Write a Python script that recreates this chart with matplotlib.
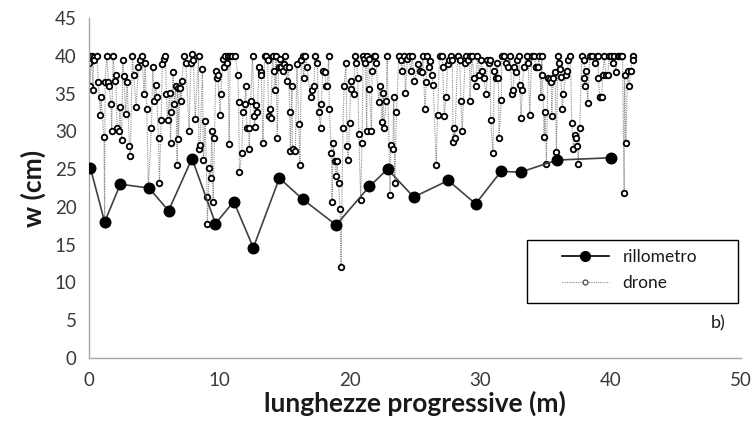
import numpy as np
import matplotlib
matplotlib.use("Agg")
import matplotlib.pyplot as plt
from matplotlib.lines import Line2D
from matplotlib.patches import Rectangle

plt.rcParams['font.family'] = ['Lato', 'DejaVu Sans']

# rill-meter measurements
rill_x = [0.1, 1.2, 2.4, 4.6, 6.1, 7.9, 9.7, 11.1, 12.6, 14.6, 16.4, 18.95, 21.5,
          22.9, 24.9, 27.55, 29.65, 31.6, 33.1, 35.9, 40.0]
rill_y = [25.2, 18.0, 23.0, 22.5, 19.5, 26.4, 17.8, 20.7, 14.6, 23.8, 21.0, 17.6, 22.7,
          25.0, 21.3, 23.5, 20.4, 24.7, 24.6, 26.2, 26.5]

# drone-derived widths along the rill
drone_x = [
    0.0, 0.05, 0.06, 0.2, 0.31, 0.36, 0.41, 0.61, 0.72, 0.87, 0.92, 1.15, 1.2, 1.23, 1.36,
    1.49, 1.54, 1.69, 1.74, 1.84, 2.0, 2.05, 2.15, 2.3, 2.36, 2.51, 2.59, 2.66, 2.82, 2.92,
    3.1, 3.17, 3.33, 3.43, 3.61, 3.79, 3.92, 4.05, 4.23, 4.3, 4.43, 4.55, 4.79, 4.89, 5.02,
    5.12, 5.2, 5.33, 5.4, 5.53, 5.63, 5.73, 5.86, 5.94, 6.02, 6.2, 6.25, 6.32, 6.45, 6.55,
    6.66, 6.76, 6.81, 6.86, 6.99, 7.07, 7.12, 7.27, 7.42, 7.68, 7.81, 7.89, 8.0, 8.14,
    8.4, 8.42, 8.52, 8.7, 8.78, 8.91, 9.06, 9.07, 9.22, 9.32, 9.42, 9.52, 9.62, 9.73, 9.83,
    9.88, 10.06, 10.11, 10.29, 10.39, 10.44, 10.6, 10.65, 10.75, 10.83, 11.0, 11.21, 11.42,
    11.47, 11.54, 11.72, 11.8, 11.93, 12.03, 12.11, 12.24, 12.29, 12.39, 12.54, 12.65, 12.7,
    12.82, 12.9, 13.05, 13.16, 13.21, 13.34, 13.47, 13.57, 13.7, 13.77, 13.9, 13.93, 14.08,
    14.18, 14.28, 14.34, 14.44, 14.54, 14.62, 14.75, 14.85, 14.95, 15.05, 15.1, 15.15, 15.31,
    15.39, 15.44, 15.56, 15.61, 15.82, 15.95, 16.08, 16.18, 16.28, 16.38, 16.46,
    16.59, 16.72, 17.0, 17.1, 17.23, 17.36, 17.51, 17.61, 17.77, 17.82, 17.92, 18.07, 18.18,
    18.28, 18.38, 18.43, 18.59, 18.64, 18.74, 18.84, 18.95, 19.02, 19.15, 19.25, 19.33,
    19.48, 19.56, 19.71, 19.79, 19.87, 19.99, 20.07, 20.12, 20.3, 20.38, 20.51, 20.61, 20.69,
    20.84, 20.94, 21.02, 21.1, 21.2, 21.3, 21.33, 21.45, 21.5, 21.66, 21.71, 21.84, 21.97,
    22.02, 22.22, 22.32, 22.48, 22.55, 22.61, 22.79, 22.86, 23.09, 23.14, 23.3, 23.37, 23.45,
    23.58, 23.76, 23.89, 24.01, 24.17, 24.27, 24.42, 24.53, 24.68, 24.78, 24.94,
    25.24, 25.35, 25.55, 25.6, 25.76, 25.86, 25.94, 26.06, 26.12, 26.27, 26.4, 26.63, 26.73,
    26.88, 27.09, 27.12, 27.24, 27.4, 27.5, 27.6, 27.73, 27.86, 27.91, 28.01, 28.06, 28.27,
    28.42, 28.52, 28.62, 28.83, 28.93, 29.08, 29.19, 29.21, 29.39, 29.52, 29.65, 29.78, 29.9,
    30.06, 30.16, 30.26, 30.47, 30.54, 30.67, 30.77, 30.8, 30.98, 31.08, 31.18, 31.31, 31.39,
    31.44, 31.62, 31.65, 31.8, 31.95, 32.16, 32.31, 32.41, 32.52, 32.62, 32.72, 32.85, 32.98,
    33.03, 33.13, 33.23, 33.33,
    33.62, 33.69, 33.8, 33.95, 34.16, 34.26, 34.3, 34.41, 34.51, 34.67, 34.72, 34.77, 34.9,
    34.97, 35.08, 35.18, 35.33, 35.44, 35.49, 35.59, 35.74, 35.85, 35.95, 36.05, 36.15, 36.18,
    36.3, 36.38, 36.56, 36.69, 36.77, 36.92, 37.02, 37.15, 37.25, 37.38, 37.46, 37.51, 37.64,
    37.79, 37.97, 37.99, 38.0, 38.1, 38.25, 38.4, 38.56, 38.82, 38.92, 39.02, 39.07, 39.17,
    39.22, 39.33, 39.38, 39.53, 39.63, 39.79, 39.89, 40.04, 40.2, 40.27, 40.4, 40.53, 40.66,
    40.79, 40.91, 41.04, 41.07, 41.17, 41.3, 41.43, 41.55, 41.68, 41.73,
]
drone_y = [
    39.0, 40.0, 36.0, 40.0, 35.5, 39.8, 39.5, 40.0, 36.5, 32.1, 34.5, 29.2, 17.8, 36.5, 40.0,
    36.5, 36.0, 33.6, 30.1, 40.0, 36.6, 37.5, 30.5, 30.1, 33.2, 28.9, 39.5, 37.3, 32.3, 36.5,
    28.1, 26.7, 40.0, 37.4, 33.2, 38.5, 39.5, 40.0, 34.9, 39.0, 33.0, 22.6, 30.5, 38.5, 34.0,
    36.1, 34.5, 29.1, 23.1, 31.5, 38.9, 39.6, 40.0, 34.9, 31.5, 35.1, 28.5, 32.5, 37.9, 33.6,
    36.0, 25.5, 35.7, 29.0, 35.7, 34.0, 36.6, 40.0, 39.0, 30.1, 39.0, 40.3, 39.5, 31.6,
    40.0, 27.6, 28.2, 38.2, 26.2, 31.4, 21.3, 17.7, 25.1, 23.8, 30.1, 20.7, 29.1, 38.0, 37.1,
    37.5, 32.1, 35.0, 39.6, 38.5, 40.0, 39.1, 40.0, 28.3, 40.0, 40.0, 40.0, 37.4,
    33.9, 24.6, 27.1, 32.5, 33.6, 36.0, 30.5, 30.5, 27.6, 34.0, 40.0, 32.0, 30.6,
    33.5, 32.5, 38.5, 37.9, 37.4, 28.5, 40.0, 40.0, 39.5, 32.0, 33.0, 31.7, 40.0,
    38.0, 35.5, 40.0, 29.1, 38.5, 39.6, 38.5, 38.0, 38.9, 40.0, 38.5, 36.6, 38.5,
    32.6, 27.4, 36.0, 27.7, 27.4, 38.9, 31.0, 25.5, 39.5, 40.0, 37.1,
    40.0, 38.5, 34.6, 35.5, 36.0, 40.0, 39.0, 32.5, 30.5, 33.6, 38.0, 37.9, 36.0,
    36.0, 40.0, 33.0, 27.1, 20.7, 28.5, 26.1, 24.1, 26.1, 23.1, 19.7, 12.1,
    30.5, 36.0, 39.0, 28.0, 26.2, 31.1, 36.6, 35.6, 34.9, 40.0, 39.0, 37.1, 29.6,
    20.9, 28.5, 40.0, 39.6, 39.0, 30.1, 40.0, 39.6, 35.6, 30.1, 38.0, 40.0, 40.0,
    39.0, 33.9, 36.0, 31.2, 35.1, 30.5, 34.0, 40.0, 21.6, 28.2, 27.6, 34.6, 23.2,
    32.6, 40.0, 39.5, 38.0, 40.0, 35.1, 39.6, 40.0, 38.0, 40.0, 36.6,
    38.9, 38.0, 37.9, 40.0, 33.0, 36.5, 40.0, 38.5, 39.3, 37.5, 36.1, 25.5, 32.1,
    40.0, 40.0, 38.5, 32.0, 34.6, 38.9, 39.5, 40.0, 39.5, 28.6, 30.5, 29.1, 40.0,
    39.5, 34.0, 30.1, 39.0, 40.0, 39.5, 40.0, 34.0, 40.0, 37.1, 36.0, 40.0, 37.5,
    39.5, 38.0, 37.1, 34.9, 39.5, 39.0, 39.5, 31.5, 27.1, 38.0, 37.1, 39.0, 37.1,
    29.1, 34.2, 40.0, 40.0, 39.0, 38.5, 40.0, 34.9, 35.5, 38.5, 37.9, 39.5, 40.0,
    36.1, 31.7, 35.5, 38.5,
    40.0, 39.0, 32.1, 40.0, 40.0, 38.5, 38.5, 38.5, 40.0, 34.5, 40.0, 37.5, 29.3,
    32.6, 25.7, 37.0, 36.9, 36.5, 32.0, 37.0, 37.9, 27.2, 40.0, 39.0, 38.3, 37.2,
    33.0, 34.9, 37.4, 38.0, 39.5, 40.0, 31.1, 27.6, 29.5, 29.1, 28.1, 25.7, 30.5,
    40.0, 39.5, 37.0, 36.0, 38.0, 33.8, 40.0, 40.0, 39.0, 40.0, 40.0, 37.0, 34.5,
    34.5, 34.5, 37.5, 40.0, 37.4, 37.5, 40.0, 40.0, 39.0, 40.0, 37.9, 40.0, 40.0,
    40.0, 40.0, 21.8, 37.5, 28.4, 38.0, 36.0, 38.0, 40.0, 39.5,
]

x_ticks = [0, 10, 20, 30, 40, 50]
y_ticks = [0, 5, 10, 15, 20, 25, 30, 35, 40, 45]

order = np.argsort(drone_x, kind="stable")
dx = np.asarray(drone_x)[order]
dy = np.asarray(drone_y)[order]

W, H = 756, 442
fig = plt.figure(figsize=(W / 100, H / 100), dpi=100)
ax = fig.add_axes([89 / W, (H - 358) / H, (741 - 89) / W, (358 - 18) / H])

ax.plot(dx, dy, linestyle=(0, (1, 1)), color="#8c8c8c", linewidth=0.8,
        marker="o", markersize=4.0, markerfacecolor="white",
        markeredgecolor="black", markeredgewidth=1.3, zorder=2)
ax.plot(rill_x, rill_y, linestyle="-", color="#404040", linewidth=1.2,
        marker="o", markersize=7.6, markerfacecolor="black",
        markeredgecolor="black", zorder=3)

ax.set_xlim(0, 50)
ax.set_ylim(0, 45)
ax.set_xticks(x_ticks)
ax.set_yticks(y_ticks)
for side in ("top", "right"):
    ax.spines[side].set_visible(False)
for side in ("left", "bottom"):
    ax.spines[side].set_color("#a6a6a6")
    ax.spines[side].set_linewidth(1.0)
ax.tick_params(axis="both", length=0, labelsize=13.5, labelcolor="#3a3a3a")
ax.tick_params(axis="y", pad=9)
ax.tick_params(axis="x", pad=10)

ax.set_xlabel("lunghezze progressive (m)", fontsize=19, fontweight="bold",
              color="#1a1a1a", labelpad=1)
ax.set_ylabel("w (cm)", fontsize=19, fontweight="bold", color="#1a1a1a", labelpad=6)

# legend without frame, boxed by a separate rectangle
handles = [
    Line2D([], [], linestyle="-", color="black", linewidth=1.2, marker="o",
           markersize=7, markerfacecolor="black"),
    Line2D([], [], linestyle=(0, (1, 1)), color="#8c8c8c", linewidth=0.8, marker="o",
           markersize=3.5, markerfacecolor="white", markeredgecolor="#555555",
           markeredgewidth=1.0),
]
fig.legend(handles, ["rillometro", "drone"], loc="center left",
           bbox_to_anchor=(553 / W, (H - 270) / H), frameon=False,
           fontsize=12.5, handlelength=2.7, handletextpad=0.8,
           labelspacing=0.6, borderpad=0, labelcolor="#1a1a1a")
fig.patches.append(Rectangle((527 / W, (H - 303) / H), (738 - 527) / W, (303 - 240) / H,
                             transform=fig.transFigure, fill=False,
                             edgecolor="black", linewidth=1.0))

fig.text(718 / W, (H - 323) / H, "b)", fontsize=13, color="#1a1a1a",
         ha="center", va="center")

fig.savefig("out.png", dpi=100, facecolor="white")
